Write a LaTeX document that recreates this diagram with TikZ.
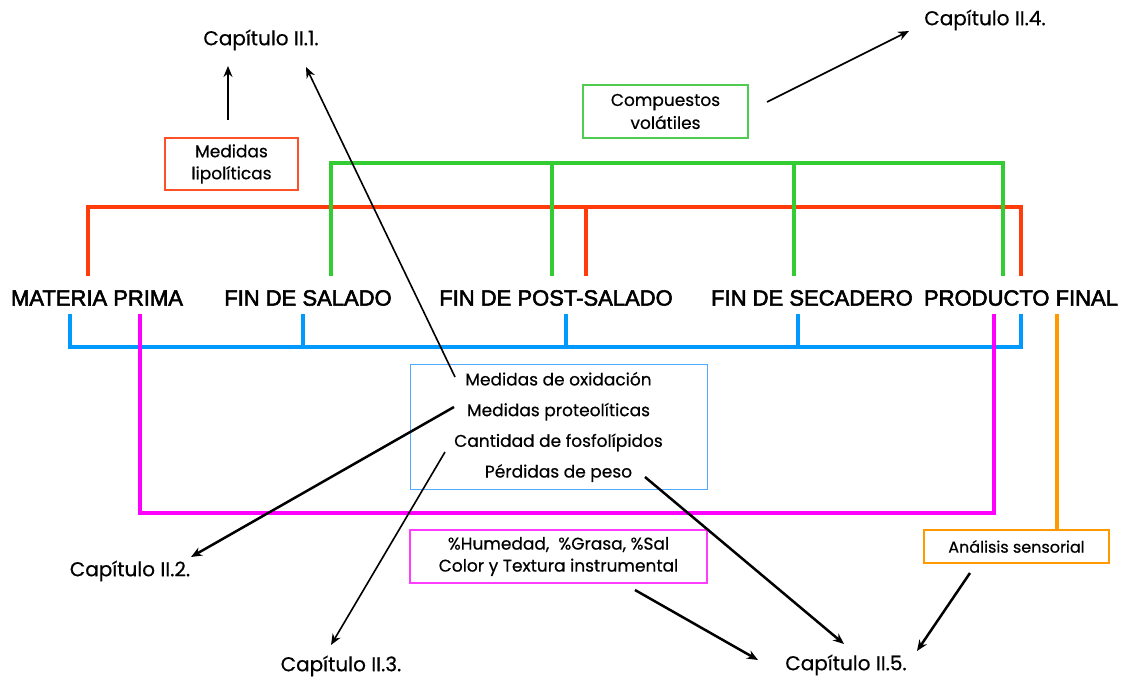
\documentclass[tikz,border=0pt]{standalone}
\usepackage{fontspec}
\setmainfont{Liberation Sans}
\newfontfamily\stagefont{Liberation Sans}[FakeBold=2.5]
\newfontfamily\geo{Poppins}[FakeBold=0.5]
\usetikzlibrary{arrows.meta}
\definecolor{cred}{RGB}{255,60,10}
\definecolor{cgreen}{RGB}{51,204,51}
\definecolor{cblue}{RGB}{0,153,255}
\definecolor{cmag}{RGB}{255,0,255}
\definecolor{corange}{RGB}{255,153,0}
\definecolor{bred}{RGB}{255,80,40}
\definecolor{bgreen}{RGB}{80,205,80}
\definecolor{bblue}{RGB}{80,170,255}
\definecolor{bmag}{RGB}{255,60,255}
\begin{document}
\begin{tikzpicture}[x=1pt,y=-1pt,
  stage/.style={font=\stagefont\fontsize{22}{26}\selectfont, inner sep=0pt},
  tag/.style={font=\geo\fontsize{17}{22}\selectfont, align=center, draw, line width=1.4pt, inner sep=0pt},
  chap/.style={font=\geo\fontsize{20}{24}\selectfont, inner sep=0pt},
  bar/.style={line width=4pt, line join=miter},
  link/.style={-{Stealth[length=11pt,width=9pt]}, line width=1.6pt},
  linkw/.style={link, line width=2.5pt}]
\useasboundingbox (0,0) rectangle (1128,684);
\fill[white] (0,0) rectangle (1128,684);

% process stages
\node[stage] (mp) at (97,298) {MATERIA PRIMA};
\node[stage] (fs) at (308,298) {FIN DE SALADO};
\node[stage] (fps) at (556,298) {FIN DE POST-SALADO};
\node[stage] (fsec) at (812,298) {FIN DE SECADERO};
\node[stage] (pf) at (1021,298) {PRODUCTO FINAL};

% sampling brackets
\draw[bar, cred] (88,276) -- (88,207) -- (1021,207) -- (1021,276);
\draw[bar, cred] (586,207) -- (586,276);
\draw[bar, cgreen] (331,276) -- (331,163) -- (1003,163) -- (1003,276);
\draw[bar, cgreen] (552,163) -- (552,276);
\draw[bar, cgreen] (794,163) -- (794,276);
\draw[bar, cblue] (70,314) -- (70,347) -- (1021,347) -- (1021,314);
\draw[bar, cblue] (303,347) -- (303,314);
\draw[bar, cblue] (566,347) -- (566,314);
\draw[bar, cblue] (798,347) -- (798,314);
\draw[bar, cmag] (140,314) -- (140,513) -- (994,513) -- (994,314);
\draw[bar, corange] (1057,314) -- (1057,530);

% analysis boxes
\node[tag, draw=bred, minimum width=133pt, minimum height=52pt] (lipo) at (231.5,164) {Medidas\\lipolíticas};
\node[tag, draw=bgreen, minimum width=165pt, minimum height=53pt,
      font=\geo\fontsize{17}{23}\selectfont] (vol) at (665.5,111.5) {Compuestos\\volátiles};
\node[tag, draw=bblue, line width=1pt, minimum width=297pt, minimum height=125pt,
      font=\geo\fontsize{17}{30.7}\selectfont] (fq) at (558.5,427)
      {Medidas de oxidación\\Medidas proteolíticas\\Cantidad de fosfolípidos\\Pérdidas de peso};
\node[tag, draw=bmag, minimum width=297pt, minimum height=53pt] (hum) at (558.5,556.5)
      {\%Humedad,\ \ \%Grasa, \%Sal\\Color y Textura instrumental};
\node[tag, draw=corange, minimum width=185pt, minimum height=33pt,
      font=\geo\fontsize{16}{20}\selectfont] (sens) at (1016.5,546.5) {Análisis sensorial};

% chapters
\node[chap] (c1) at (261,40) {Capítulo II.1.};
\node[chap] (c4) at (985,20) {Capítulo II.4.};
\node[chap] (c2) at (130,571) {Capítulo II.2.};
\node[chap] (c3) at (341,666) {Capítulo II.3.};
\node[chap] (c5) at (846,665) {Capítulo II.5.};

% arrow ends
\coordinate (s1) at (228,120); \coordinate (e1) at (228,66);
\coordinate (s2) at (455,377); \coordinate (e2) at (306,67);
\coordinate (s3) at (767,102); \coordinate (e3) at (909,31);
\coordinate (s4) at (454,407); \coordinate (e4) at (191,557);
\coordinate (s5) at (445,452); \coordinate (e5) at (331,645);
\coordinate (s6) at (645,477); \coordinate (e6) at (844,644);
\coordinate (s7) at (635,590); \coordinate (e7) at (758,660);
\coordinate (s8) at (970,573); \coordinate (e8) at (917,651);

\draw[link] (s1) -- (e1);
\draw[link] (s2) -- (e2);
\draw[link] (s3) -- (e3);
\draw[linkw] (s4) -- (e4);
\draw[link] (s5) -- (e5);
\draw[linkw] (s6) -- (e6);
\draw[linkw] (s7) -- (e7);
\draw[linkw] (s8) -- (e8);
\end{tikzpicture}
\end{document}
